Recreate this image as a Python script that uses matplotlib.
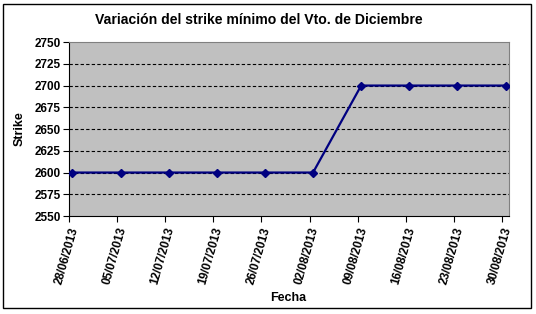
import matplotlib

matplotlib.use("Agg")
import matplotlib.pyplot as plt  # noqa: E402
from matplotlib.patches import Rectangle  # noqa: E402

# Weekly dates (days counted from 28/06/2013) and the minimum strike
dates = ["28/06/2013", "05/07/2013", "12/07/2013", "19/07/2013", "26/07/2013",
         "02/08/2013", "09/08/2013", "16/08/2013", "23/08/2013", "30/08/2013"]
day_offsets = [0, 7, 14, 21, 28, 35, 42, 49, 56, 63]
strikes = [2600, 2600, 2600, 2600, 2600, 2600, 2700, 2700, 2700, 2700]
y_ticks = [2550, 2575, 2600, 2625, 2650, 2675, 2700, 2725, 2750]

plt.rcParams["font.family"] = ["Liberation Sans", "DejaVu Sans"]

fig = plt.figure(figsize=(5.36, 3.14), dpi=100)
ax = fig.add_axes([0.1287, 0.312, 0.8209, 0.554])

# Excel date axis: each point sits in the middle of its day
ax.plot([d + 0.5 for d in day_offsets], strikes, color="#000080", lw=1.6,
        marker="D", ms=4.5, mfc="#000080", mec="#000080", zorder=3)

ax.set_facecolor("#C0C0C0")
ax.set_xlim(0, 64)
ax.set_ylim(2550, 2750)
ax.set_yticks(y_ticks)
ax.set_xticks(day_offsets)
ax.set_xticklabels(dates, rotation=74, ha="right", va="top",
                   rotation_mode="anchor", fontsize=8.5, fontweight="bold")
ax.tick_params(axis="y", labelsize=8.5, length=4, width=0.8, pad=2)
ax.tick_params(axis="x", length=4, width=0.8, pad=3)
for lbl in ax.get_yticklabels():
    lbl.set_fontweight("bold")

for y in y_ticks[1:-1]:
    ax.axhline(y, color="black", ls=(0, (3, 2)), lw=0.8, zorder=1)

for side in ("top", "right"):
    ax.spines[side].set_color("#808080")
for side in ("left", "bottom"):
    ax.spines[side].set_color("black")
    ax.spines[side].set_linewidth(0.8)

ax.set_ylabel("Strike", fontsize=9, fontweight="bold", labelpad=6)
fig.text(0.538, 0.05, "Fecha", fontsize=9, fontweight="bold", ha="center", va="center")
fig.text(0.483, 0.937, "Variación del strike mínimo del Vto. de Diciembre",
         fontsize=10.1, fontweight="bold", ha="center", va="center")

fig.patches.append(Rectangle((0.006, 0.019), 0.985, 0.968, transform=fig.transFigure,
                             fill=False, edgecolor="black", lw=1.0))

fig.savefig("out.png", dpi=100)
